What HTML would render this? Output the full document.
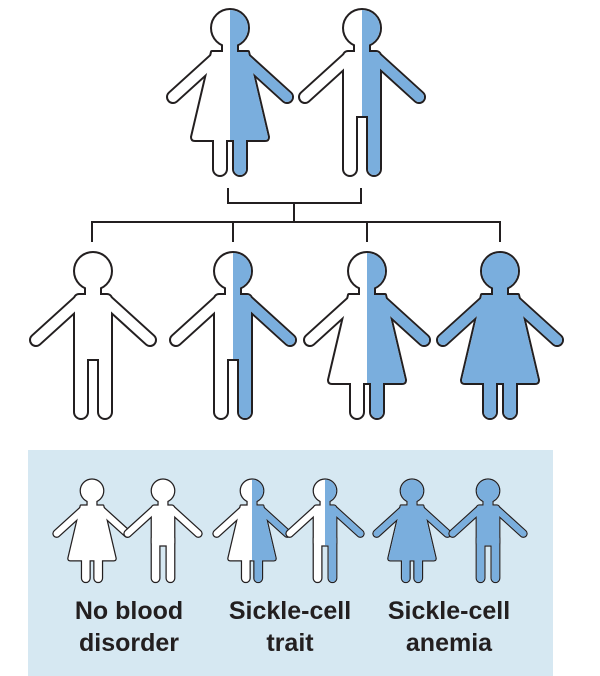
<!DOCTYPE html>
<html><head><meta charset="utf-8"><style>
html,body{margin:0;padding:0;background:#fff;}
svg{display:block;}
text{font-family:"Liberation Sans",sans-serif;font-weight:bold;fill:#231f20;font-size:25px;text-anchor:middle;}
</style></head><body>
<svg width="600" height="676" viewBox="0 0 600 676" xmlns="http://www.w3.org/2000/svg">
<defs>
  <g id="mb">
    <circle cx="0" cy="19" r="18"/>
    <rect x="-7" y="30" width="14" height="18"/>
    <rect x="-18" y="43" width="36" height="64" rx="4"/>
    <rect x="-18" y="90" width="12" height="76" rx="6"/>
    <rect x="6" y="90" width="12" height="76" rx="6"/>
  </g>
  <g id="ma">
    <line x1="-14" y1="49" x2="-57" y2="88"/>
    <line x1="14" y1="49" x2="57" y2="88"/>
  </g>
  <g id="fb">
    <circle cx="0" cy="19" r="18"/>
    <rect x="-7" y="30" width="14" height="18"/>
    <path d="M-18,43 L18,43 L38,128 Q38,131 35,131 L-35,131 Q-38,131 -38,128 Z"/>
    <rect x="-16" y="110" width="12" height="56" rx="6"/>
    <rect x="4" y="110" width="12" height="56" rx="6"/>
  </g>
  <g id="fa">
    <line x1="-14" y1="49" x2="-57" y2="88"/>
    <line x1="14" y1="49" x2="57" y2="88"/>
  </g>
  <clipPath id="half"><rect x="0" y="-10" width="100" height="200"/></clipPath>

  <g id="M0">
    <use href="#mb" fill="#231f20" stroke="#231f20" stroke-width="4" stroke-linejoin="round"/>
    <use href="#ma" stroke="#231f20" stroke-width="14" stroke-linecap="round"/>
    <use href="#mb" fill="#fff"/>
    <use href="#ma" stroke="#fff" stroke-width="10" stroke-linecap="round"/>
  </g>
  <g id="MH">
    <use href="#M0"/>
    <g clip-path="url(#half)">
      <use href="#mb" fill="#7aaedd"/>
      <use href="#ma" stroke="#7aaedd" stroke-width="10" stroke-linecap="round"/>
    </g>
  </g>
  <g id="MF">
    <use href="#M0"/>
    <use href="#mb" fill="#7aaedd"/>
    <use href="#ma" stroke="#7aaedd" stroke-width="10" stroke-linecap="round"/>
  </g>
  <g id="F0">
    <use href="#fb" fill="#231f20" stroke="#231f20" stroke-width="4" stroke-linejoin="round"/>
    <use href="#fa" stroke="#231f20" stroke-width="14" stroke-linecap="round"/>
    <use href="#fb" fill="#fff"/>
    <use href="#fa" stroke="#fff" stroke-width="10" stroke-linecap="round"/>
  </g>
  <g id="FH">
    <use href="#F0"/>
    <g clip-path="url(#half)">
      <use href="#fb" fill="#7aaedd"/>
      <use href="#fa" stroke="#7aaedd" stroke-width="10" stroke-linecap="round"/>
    </g>
  </g>
  <g id="FF">
    <use href="#F0"/>
    <use href="#fb" fill="#7aaedd"/>
    <use href="#fa" stroke="#7aaedd" stroke-width="10" stroke-linecap="round"/>
  </g>
</defs>

<use href="#FH" transform="translate(230,9)"/>
<use href="#MH" transform="translate(362,9)"/>

<g stroke="#231f20" stroke-width="2" fill="none">
  <path d="M228,188 V203 H361 V188"/>
  <path d="M294,203 V222"/>
  <path d="M92,242 V222 H500 V242"/>
  <path d="M233,222 V242 M367,222 V242"/>
</g>

<use href="#M0" transform="translate(93,252)"/>
<use href="#MH" transform="translate(233,252)"/>
<use href="#FH" transform="translate(367,252)"/>
<use href="#FF" transform="translate(500,252)"/>

<rect x="28" y="450" width="525" height="226" fill="#d6e8f2"/>
<use href="#F0" transform="translate(92,479) scale(0.62)"/>
<use href="#M0" transform="translate(163,479) scale(0.62)"/>
<use href="#FH" transform="translate(252,479) scale(0.62)"/>
<use href="#MH" transform="translate(325,479) scale(0.62)"/>
<use href="#FF" transform="translate(412,479) scale(0.62)"/>
<use href="#MF" transform="translate(488,479) scale(0.62)"/>

<text x="129" y="619">No blood</text>
<text x="129" y="651">disorder</text>
<text x="290" y="619">Sickle-cell</text>
<text x="290" y="651">trait</text>
<text x="449" y="619">Sickle-cell</text>
<text x="449" y="651">anemia</text>
</svg>
</body></html>
